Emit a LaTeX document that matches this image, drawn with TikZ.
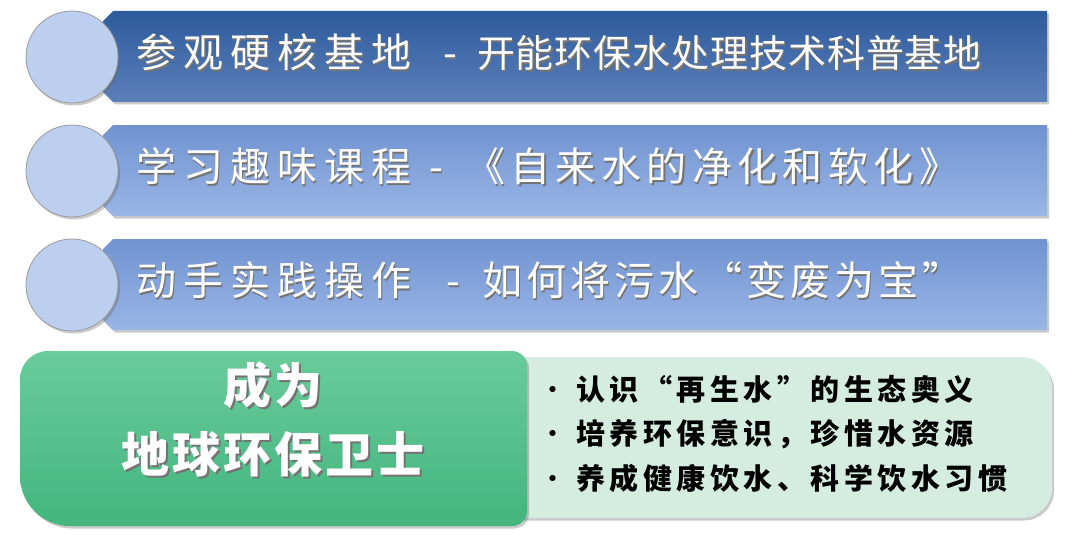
\documentclass[tikz,border=0pt]{standalone}
\usepackage{fontspec}
\newfontfamily\cjk{Noto Sans CJK SC}
\usetikzlibrary{shadows}
\definecolor{barAtop}{HTML}{2E5B9C}
\definecolor{barAbot}{HTML}{5B7FBA}
\definecolor{barBtop}{HTML}{7093D0}
\definecolor{barBbot}{HTML}{9AB5E6}
\definecolor{circfill}{HTML}{BCCFEF}
\definecolor{circline}{HTML}{9A9A9A}
\definecolor{grtop}{HTML}{6ACB9B}
\definecolor{grbot}{HTML}{43B57D}
\definecolor{ltgreen}{HTML}{D4EDE0}
% letter spacing of CJK strings (kern between characters only)
\def\lsend{LSEND}
\newcommand\spaced[2]{\def\lsk{#1}\lsfirst#2\lsend}
\def\lsfirst#1{#1\lsdo}
\def\lsdo#1{\ifx#1\lsend\else\kern\lsk#1\expandafter\lsdo\fi}
% text with a small drop shadow
\newcommand\sht[1]{\leavevmode\rlap{\kern1.6pt\raisebox{-1.6pt}{\color{black!55}#1}}#1}
\tikzset{
  shad/.style={drop shadow={opacity=0.35,shadow xshift=2pt,shadow yshift=-2.5pt,fill=black!60}},
  barA/.style={shad,top color=barAtop,bottom color=barAbot,draw=none},
  barB/.style={shad,top color=barBtop,bottom color=barBbot,draw=none},
  circ/.style={shad,circle,fill=circfill,draw=circline,line width=0.8pt,minimum size=92pt,inner sep=0pt},
  bartext/.style={inner sep=0pt,anchor=west,text=white,font=\cjk\fontsize{40}{46}\selectfont},
  bullet/.style={inner sep=0pt,anchor=west,text=black,font=\cjk\bfseries\fontsize{29}{34}\selectfont},
  title/.style={inner sep=0pt,text=white,font=\cjk\bfseries\fontsize{48}{56}\selectfont}
}
\begin{document}
\begin{tikzpicture}[x=1pt,y=-1pt]
\useasboundingbox (0,0) rectangle (1080,535);
% bars
\path[barA] (113,11) -- (1047,11) -- (1047,102) -- (113,102) -- (103,92) -- (103,21) -- cycle;
\path[barB] (113,125) -- (1047,125) -- (1047,216) -- (113,216) -- (103,206) -- (103,135) -- cycle;
\path[barB] (113,239) -- (1047,239) -- (1047,330) -- (113,330) -- (103,320) -- (103,249) -- cycle;
% circles
\node[circ] (c1) at (72,57) {};
\node[circ] (c2) at (72,171) {};
\node[circ] (c3) at (72,285) {};
% bar texts
\node[bartext] (a1) at (136,53) {\sht{\spaced{7pt}{参观硬核基地}\kern32pt -\kern20pt{\fontsize{38}{44}\selectfont\spaced{0.9pt}{开能环保水处理技术科普基地}}}};
\node[bartext] (a2) at (136,167) {\sht{\spaced{7pt}{学习趣味课程}\kern18pt -\kern22pt\spaced{5.4pt}{《自来水的净化和软化》}}};
\node[bartext] (a3) at (136,281) {\sht{\spaced{7pt}{动手实践操作}\kern35pt -\kern22pt\spaced{4pt}{如何将污水“变废为宝”}}};
% light green panel
\path[shad,fill=ltgreen] (500,357) -- (1022,357) .. controls (1038.6,357) and (1052,370.4) .. (1052,387) -- (1052,488) .. controls (1052,504.6) and (1038.6,518) .. (1022,518) -- (500,518) -- cycle;
% green panel
\path[shad,top color=grtop,bottom color=grbot] (20,379) .. controls (20,363.5) and (32.5,351) .. (48,351) -- (512,351) .. controls (520.3,351) and (527,357.7) .. (527,366) -- (527,511) .. controls (527,519.3) and (520.3,526) .. (512,526) -- (70,526) .. controls (42.4,526) and (20,503.6) .. (20,476) -- cycle;
\node[title] (t1) at (273,386) {\sht{\spaced{3pt}{成为}}};
\node[title] (t2) at (273,455) {\sht{\spaced{3pt}{地球环保卫士}}};
% bullets
\node[bullet] (l1) at (538,389) {{\mdseries·}\kern9pt\spaced{4.5pt}{认识“再生水”的生态奥义}};
\node[bullet] (l2) at (538,434) {{\mdseries·}\kern9pt\spaced{4.5pt}{培养环保意识，珍惜水资源}};
\node[bullet] (l3) at (538,478) {{\mdseries·}\kern9pt\spaced{4.5pt}{养成健康饮水、科学饮水习惯}};
\end{tikzpicture}
\end{document}
